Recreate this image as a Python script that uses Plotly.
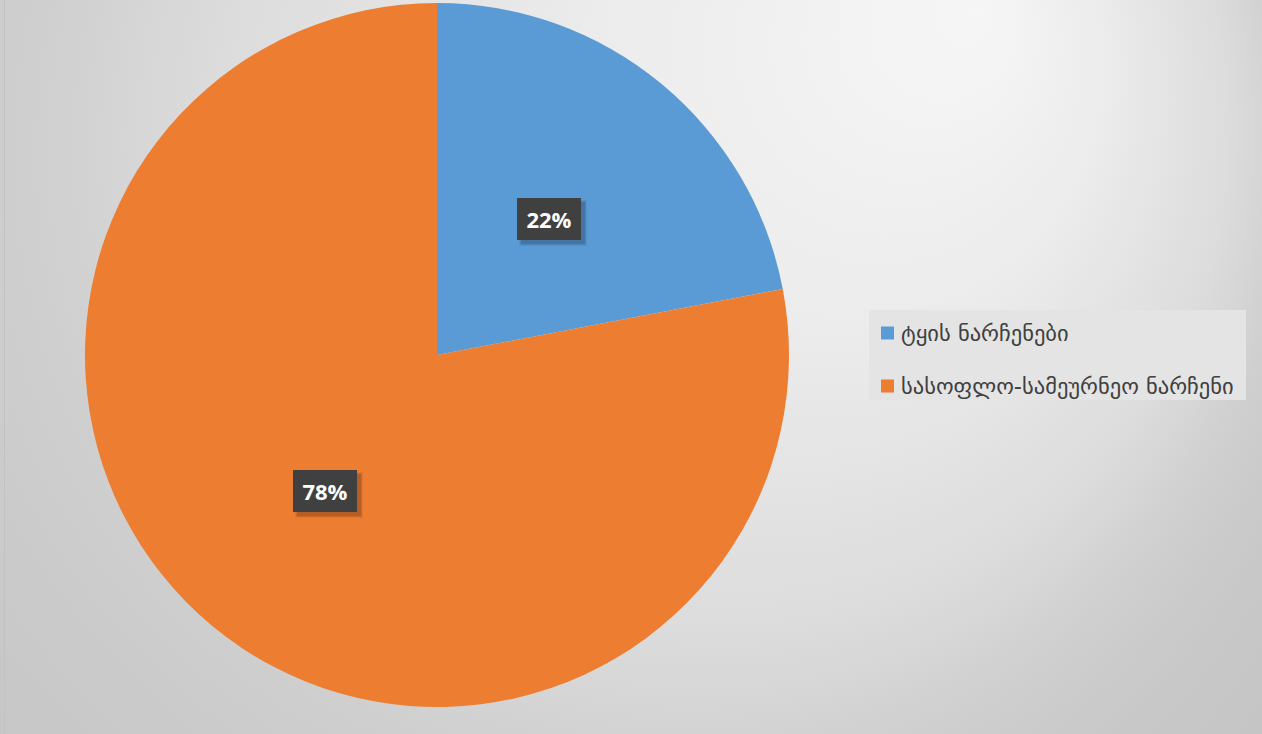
import base64
import math
import plotly.graph_objects as go

# Waste composition (percent)
labels = ["ტყის ნარჩენები", "სასოფლო-სამეურნეო ნარჩენი"]
values = [22, 78]
colors = ["#5B9BD5", "#ED7D31"]

W, H = 1262, 734
CX, CY, R = 437, 355, 352          # pie centre / radius in pixels
LABEL_R = 0.5                      # data labels at half the radius


def px(x):
    return x / W


def py(y):
    return 1 - y / H


# soft radial background
bg_svg = f'''<svg xmlns="http://www.w3.org/2000/svg" width="{W}" height="{H}" viewBox="0 0 {W} {H}" preserveAspectRatio="none">
<defs><radialGradient id="g" gradientUnits="userSpaceOnUse" cx="450" cy="250" r="1050" fx="980" fy="10">
<stop offset="0" stop-color="#F6F6F6"/>
<stop offset="0.24" stop-color="#ECECEC"/>
<stop offset="0.48" stop-color="#DCDCDC"/>
<stop offset="0.6" stop-color="#CFCFCF"/>
<stop offset="0.72" stop-color="#C8C8C8"/>
<stop offset="1" stop-color="#C2C2C2"/>
</radialGradient></defs>
<rect width="{W}" height="{H}" fill="url(#g)"/>
</svg>'''
bg_uri = "data:image/svg+xml;base64," + base64.b64encode(bg_svg.encode("utf-8")).decode("ascii")

fig = go.Figure(
    go.Pie(
        labels=labels,
        values=values,
        marker=dict(colors=colors, line=dict(width=0)),
        sort=False,
        direction="clockwise",
        rotation=0,
        textinfo="none",
        hoverinfo="label+percent",
        showlegend=False,
        domain=dict(x=[px(CX - R), px(CX + R)], y=[py(CY + R), py(CY - R)]),
    )
)

annotations = []
shapes = []

# data labels: dark boxes with a soft drop shadow, placed along each slice's mid-angle
total = sum(values)
cum = 0.0
for v in values:
    frac = v / total
    mid = (cum + frac / 2) * 2 * math.pi
    cum += frac
    lx = CX + LABEL_R * R * math.sin(mid)
    ly = CY - LABEL_R * R * math.cos(mid)
    text = f"{round(frac * 100)}%"
    common = dict(x=px(lx), y=py(ly), xref="paper", yref="paper", showarrow=False,
                  borderpad=0, borderwidth=0, xanchor="center", yanchor="middle")
    # layered translucent boxes give a blurred shadow
    for grow, alpha in ((4, 0.06), (2, 0.08), (0, 0.12)):
        annotations.append(dict(text=" ", bgcolor=f"rgba(0,0,0,{alpha})",
                                width=64 + grow, height=42 + grow,
                                xshift=4, yshift=-4, **common))
    annotations.append(dict(text=f"<b>{text}</b>", bgcolor="#404040", width=64, height=42,
                            font=dict(family="Open Sans", size=22, color="#FFFFFF"), **common))

# legend panel
shapes.append(dict(type="rect", xref="paper", yref="paper",
                   x0=px(869), x1=px(1246), y0=py(400), y1=py(310),
                   fillcolor="#E4E4E4", line=dict(width=0), layer="below"))
row_y = [333, 386]
for lab, col, yy in zip(labels, colors, row_y):
    shapes.append(dict(type="rect", xref="paper", yref="paper",
                       x0=px(881), x1=px(894), y0=py(yy + 6.5), y1=py(yy - 6.5),
                       fillcolor=col, line=dict(width=0)))
    annotations.append(dict(text=lab, x=px(899), y=py(yy), xref="paper", yref="paper",
                            xanchor="left", yanchor="middle", showarrow=False,
                            font=dict(family="DejaVu Sans", size=22.5, color="#404040")))

# thin frame line on the left edge
shapes.append(dict(type="line", xref="paper", yref="paper",
                   x0=px(4.5), x1=px(4.5), y0=0, y1=1,
                   line=dict(color="#C2C2C2", width=1), layer="below"))

fig.update_layout(
    width=W, height=H,
    margin=dict(l=0, r=0, t=0, b=0),
    paper_bgcolor="#D8D8D8",
    plot_bgcolor="rgba(0,0,0,0)",
    images=[dict(source=bg_uri, xref="paper", yref="paper", x=0, y=1, sizex=1, sizey=1,
                 sizing="stretch", xanchor="left", yanchor="top", layer="below")],
    shapes=shapes,
    annotations=annotations,
)

fig.write_html("out.html")
